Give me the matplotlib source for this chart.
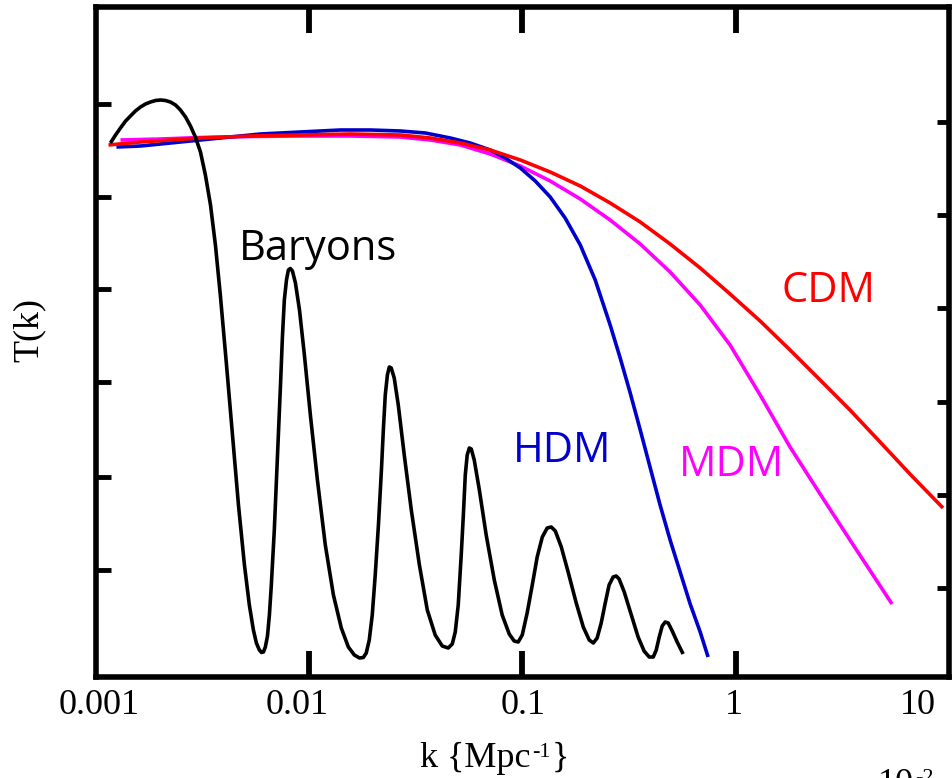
import matplotlib
matplotlib.use("Agg")
import matplotlib.pyplot as plt
import numpy as np
from matplotlib.transforms import blended_transform_factory

# ---- transfer functions T(k); k in Mpc^-1, stored as log10(k) ----
baryons_logk = [
    -2.930, -2.906, -2.883, -2.859, -2.836, -2.813, -2.789, -2.766, -2.742, -2.719,
    -2.696, -2.672, -2.649, -2.625, -2.602, -2.578, -2.555, -2.532, -2.508, -2.485,
    -2.461, -2.438, -2.415, -2.386, -2.358, -2.330, -2.302, -2.279, -2.260, -2.246,
    -2.232, -2.222, -2.213, -2.204, -2.194, -2.185, -2.176, -2.162, -2.148, -2.133,
    -2.124, -2.115, -2.105, -2.096, -2.087, -2.077, -2.063, -2.044, -2.021, -1.993,
    -1.960, -1.923, -1.885, -1.848, -1.815, -1.787, -1.763, -1.745, -1.731, -1.717,
    -1.703, -1.689, -1.674, -1.660, -1.651, -1.642, -1.632, -1.623, -1.614, -1.600,
    -1.581, -1.553, -1.520, -1.482, -1.445, -1.408, -1.375, -1.347, -1.328, -1.314,
    -1.300, -1.286, -1.276, -1.267, -1.258, -1.248, -1.239, -1.225, -1.201, -1.169,
    -1.131, -1.094, -1.061, -1.038, -1.019, -1.000, -0.977, -0.953, -0.930, -0.906,
    -0.883, -0.864, -0.845, -0.817, -0.785, -0.747, -0.714, -0.686, -0.667, -0.649,
    -0.630, -0.611, -0.593, -0.574, -0.560, -0.546, -0.522, -0.489, -0.457, -0.429,
    -0.405, -0.386, -0.372, -0.358, -0.344, -0.330, -0.316, -0.297, -0.274, -0.246]
baryons_T = [
    1.068, 1.084, 1.098, 1.112, 1.122, 1.132, 1.140, 1.146, 1.150, 1.153,
    1.154, 1.153, 1.150, 1.144, 1.134, 1.120, 1.102, 1.080, 1.050, 1.004,
    0.944, 0.864, 0.764, 0.624, 0.484, 0.344, 0.224, 0.144, 0.094, 0.068,
    0.054, 0.049, 0.050, 0.060, 0.082, 0.124, 0.184, 0.294, 0.434, 0.584,
    0.680, 0.754, 0.794, 0.814, 0.817, 0.812, 0.788, 0.734, 0.644, 0.524,
    0.394, 0.264, 0.164, 0.098, 0.060, 0.044, 0.038, 0.039, 0.048, 0.074,
    0.124, 0.204, 0.304, 0.414, 0.494, 0.564, 0.604, 0.620, 0.618, 0.598,
    0.544, 0.444, 0.334, 0.224, 0.134, 0.084, 0.062, 0.058, 0.066, 0.090,
    0.144, 0.244, 0.324, 0.404, 0.444, 0.458, 0.456, 0.434, 0.374, 0.284,
    0.194, 0.124, 0.086, 0.072, 0.070, 0.084, 0.128, 0.184, 0.240, 0.280,
    0.298, 0.300, 0.292, 0.260, 0.210, 0.148, 0.100, 0.074, 0.068, 0.078,
    0.108, 0.148, 0.184, 0.200, 0.202, 0.196, 0.170, 0.124, 0.080, 0.052,
    0.040, 0.040, 0.054, 0.080, 0.102, 0.110, 0.108, 0.092, 0.070, 0.046]

hdm_logk = [-2.902, -2.789, -2.649, -2.508, -2.368, -2.227, -2.040, -1.852, -1.712, -1.571,
            -1.454, -1.337, -1.244, -1.150, -1.080, -1.009, -0.939, -0.869, -0.799, -0.728,
            -0.658, -0.588, -0.541, -0.494, -0.447, -0.400, -0.354, -0.307, -0.260, -0.213,
            -0.166, -0.129]
hdm_T = [1.060, 1.062, 1.068, 1.074, 1.080, 1.086, 1.090, 1.094, 1.094, 1.092,
         1.088, 1.078, 1.068, 1.054, 1.038, 1.018, 0.992, 0.960, 0.918, 0.864,
         0.794, 0.704, 0.638, 0.568, 0.494, 0.418, 0.344, 0.274, 0.210, 0.146,
         0.090, 0.040]

cdm_logk = [-2.939, -2.789, -2.649, -2.508, -2.274, -2.040, -1.806, -1.571, -1.431, -1.290,
            -1.150, -1.009, -0.869, -0.728, -0.588, -0.447, -0.307, -0.166, -0.026, 0.115,
            0.255, 0.396, 0.536, 0.677, 0.817, 0.972]
cdm_T = [1.064, 1.070, 1.074, 1.078, 1.082, 1.084, 1.086, 1.084, 1.078, 1.068,
         1.054, 1.034, 1.010, 0.982, 0.948, 0.910, 0.866, 0.818, 0.766, 0.712,
         0.654, 0.594, 0.534, 0.470, 0.406, 0.338]

mdm_logk = [-2.883, -2.696, -2.508, -2.274, -2.040, -1.806, -1.571, -1.431, -1.290, -1.150,
            -1.009, -0.869, -0.728, -0.588, -0.447, -0.307, -0.166, -0.026, 0.115, 0.255,
            0.396, 0.536, 0.733]
mdm_T = [1.074, 1.076, 1.079, 1.081, 1.082, 1.082, 1.080, 1.074, 1.064, 1.046,
         1.022, 0.992, 0.956, 0.914, 0.866, 0.810, 0.744, 0.664, 0.564, 0.460,
         0.366, 0.274, 0.146]

x_tick_values = [0.001, 0.01, 0.1, 1, 10]
x_tick_labels = ["0.001", "0.01", "0.1", "1", "10"]

BLACK, BLUE, RED, MAGENTA = "#000000", "#0000cc", "#ff0000", "#ff00ff"
serif = "Liberation Serif"
sans = "Open Sans"

fig = plt.figure(figsize=(9.52, 7.78), dpi=100)
ax = fig.add_axes([95.5 / 952, 101 / 778, 853.5 / 952, 670 / 778])

lw = 2.6
style = dict(lw=lw, solid_capstyle="butt", solid_joinstyle="round")
ax.plot(10 ** np.array(cdm_logk), cdm_T, color=RED, zorder=3, **style)
ax.plot(10 ** np.array(mdm_logk), mdm_T, color=MAGENTA, zorder=2, **style)
ax.plot(10 ** np.array(hdm_logk), hdm_T, color=BLUE, zorder=2, **style)
ax.plot(10 ** np.array(baryons_logk), baryons_T, color=BLACK, zorder=4, **style)

ax.set_xscale("log")
ax.set_xlim(0.001, 10)
ax.set_ylim(0, 1.34)

for sp in ax.spines.values():
    sp.set_linewidth(4.0)

# x ticks: inward, top and bottom; labels are placed as annotations below
ax.set_xticks([0.01, 0.1, 1])
ax.set_xticks([], minor=True)
ax.set_xticklabels([])
ax.tick_params(axis="x", which="major", direction="in", length=19, width=4.2,
               top=True, bottom=True)

# left-hand y ticks
ax.set_yticks([0.214, 0.400, 0.590, 0.776, 0.960, 1.146])
ax.set_yticklabels([])
ax.tick_params(axis="y", direction="in", length=11, width=3.5, left=True, right=False)

# right-hand y ticks
axr = ax.twinx()
axr.set_ylim(0, 1.34)
axr.set_yticks([0.178, 0.364, 0.550, 0.738, 0.924, 1.110])
axr.set_yticklabels([])
axr.tick_params(axis="y", direction="in", length=9, width=3.5)
for sp in axr.spines.values():
    sp.set_visible(False)

trans = blended_transform_factory(ax.transData, ax.transAxes)
label_offsets = {"0.001": 4, "0.01": -12, "0.1": 1, "1": -2, "10": -31}
for v, s in zip(x_tick_values, x_tick_labels):
    ax.annotate(s, xy=(v, 0), xycoords=trans,
                xytext=(label_offsets[s] * 0.72, -29 * 0.72), textcoords="offset points",
                ha="center", va="center", fontsize=26, family=serif, annotation_clip=False)

# axis titles with hand-set superscripts
xl = fig.text(420 / 952, (778 - 767) / 778, "k {Mpc", ha="left", va="baseline",
              fontsize=26, family=serif)
xs = fig.add_artist(plt.Annotation("-1", xy=(1, 1), xycoords=xl, xytext=(1, -1),
                                   textcoords="offset points", ha="left", va="top",
                                   fontsize=16, family=serif))
fig.add_artist(plt.Annotation("}", xy=(1, 0), xycoords=(xs, xl), xytext=(1, 0),
                              textcoords="offset points", ha="left", va="bottom",
                              fontsize=26, family=serif))

fig.text(29 / 952, 1 - 330 / 778, "T(k)", rotation=90, ha="center", va="center",
         fontsize=26, family=serif)

sc = fig.text(878 / 952, (778 - 793) / 778, "10", ha="left", va="baseline",
              fontsize=26, family=serif)
fig.add_artist(plt.Annotation("-2", xy=(1, 1), xycoords=sc, xytext=(1, -1),
                              textcoords="offset points", ha="left", va="top",
                              fontsize=16, family=serif))

# curve names
ax.text(10 ** -1.956, 0.834, "Baryons", color=BLACK, fontsize=30, family=sans,
        ha="center", va="baseline")
ax.text(10 ** 0.433, 0.750, "CDM", color=RED, fontsize=30, family=sans,
        ha="center", va="baseline")
ax.text(10 ** -0.813, 0.430, "HDM", color=BLUE, fontsize=30, family=sans,
        ha="center", va="baseline")
ax.text(10 ** -0.021, 0.402, "MDM", color=MAGENTA, fontsize=30, family=sans,
        ha="center", va="baseline")

fig.savefig("out.png", dpi=100)
